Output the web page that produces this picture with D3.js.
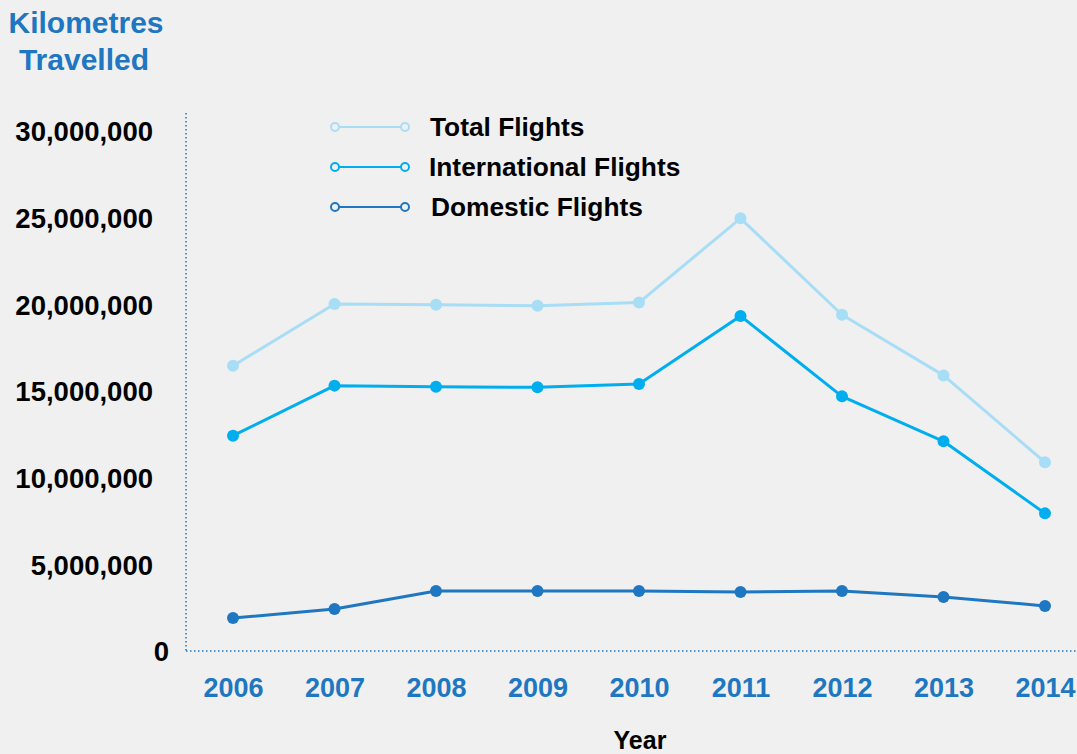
<!DOCTYPE html>
<html>
<head>
<meta charset="utf-8">
<script src="https://cdn.jsdelivr.net/npm/d3@7"></script>
<style>
  html, body { margin: 0; padding: 0; background: #f0f0f0; }
  svg { display: block; font-family: "Liberation Sans", Arial, Helvetica, sans-serif; }
</style>
</head>
<body>
<svg id="chart" width="1077" height="754"></svg>
<script>
const years = ["2006", "2007", "2008", "2009", "2010", "2011", "2012", "2013", "2014"];
const totalFlights = [16460000, 20020000, 19980000, 19920000, 20100000, 24960000, 19400000, 15900000, 10890000];
const internationalFlights = [12420000, 15310000, 15250000, 15210000, 15400000, 19330000, 14690000, 12100000, 7940000];
const domesticFlights = [1900000, 2420000, 3460000, 3460000, 3460000, 3400000, 3460000, 3120000, 2600000];
const yTickValues = [0, 5000000, 10000000, 15000000, 20000000, 25000000, 30000000];
const seriesNames = ["Total Flights", "International Flights", "Domestic Flights"];
const seriesColors = ["#a8ddf6", "#00aeef", "#1e77c0"];

const series = [
  { name: seriesNames[0], values: totalFlights, color: seriesColors[0] },
  { name: seriesNames[1], values: internationalFlights, color: seriesColors[1] },
  { name: seriesNames[2], values: domesticFlights, color: seriesColors[2] }
];

const svg = d3.select("#chart");
svg.append("rect").attr("width", 1077).attr("height", 754).attr("fill", "#f0f0f0");

const axisX = 186, zeroY = 651;
const x = d3.scalePoint().domain(years).range([233, 1045]);
const y = d3.scaleLinear().domain([0, 30000000]).range([zeroY, 131]);

const axisBlue = "#1e77c0";

// Dotted axes
svg.append("line")
  .attr("x1", axisX).attr("x2", axisX).attr("y1", 113).attr("y2", zeroY)
  .attr("stroke", axisBlue).attr("stroke-width", 1.5).attr("stroke-dasharray", "1.5,2.5");
svg.append("line")
  .attr("x1", axisX).attr("x2", 1077).attr("y1", zeroY).attr("y2", zeroY)
  .attr("stroke", axisBlue).attr("stroke-width", 1.5).attr("stroke-dasharray", "1.5,2.5");

// Y axis labels
const yAxis = svg.append("g")
  .attr("transform", `translate(${axisX},0)`)
  .call(d3.axisLeft(y).tickValues(yTickValues).tickSize(0).tickPadding(33)
    .tickFormat(d => d === 0 ? "0" : d3.format(",")(d)));
yAxis.select(".domain").remove();
yAxis.selectAll("text")
  .attr("fill", "#000").attr("font-size", 27.5).attr("font-weight", "bold")
  .attr("font-family", "'Liberation Sans', Arial, sans-serif")
  .attr("dy", "0.36em")
  .attr("dx", d => d === 0 ? 16 : 0);

// X axis labels
const xAxis = svg.append("g")
  .attr("transform", `translate(0,${zeroY})`)
  .call(d3.axisBottom(x).tickSize(0).tickPadding(27));
xAxis.select(".domain").remove();
xAxis.selectAll("text")
  .attr("fill", axisBlue).attr("font-size", 27).attr("font-weight", "bold")
  .attr("font-family", "'Liberation Sans', Arial, sans-serif")
  .attr("dy", "0.71em");

// Titles
const title = svg.append("text")
  .attr("x", 86).attr("y", 33).attr("text-anchor", "middle")
  .attr("fill", axisBlue).attr("font-size", 30).attr("font-weight", "bold");
title.append("tspan").attr("x", 86).attr("y", 33).text("Kilometres");
title.append("tspan").attr("x", 84).attr("y", 70).text("Travelled");

svg.append("text")
  .attr("x", 640).attr("y", 749).attr("text-anchor", "middle")
  .attr("fill", "#000").attr("font-size", 25).attr("font-weight", "bold")
  .text("Year");

// Lines and points
const line = d3.line().x((d, i) => x(years[i])).y(d => y(d));
series.forEach(s => {
  svg.append("path")
    .datum(s.values)
    .attr("d", line)
    .attr("fill", "none")
    .attr("stroke", s.color)
    .attr("stroke-width", 3)
    .attr("stroke-linejoin", "round");
  svg.append("g").selectAll("circle")
    .data(s.values)
    .join("circle")
    .attr("cx", (d, i) => x(years[i]))
    .attr("cy", d => y(d))
    .attr("r", 6)
    .attr("fill", s.color);
});

// Legend
const legend = svg.append("g");
series.forEach((s, i) => {
  const ly = 127 + i * 40;
  const g = legend.append("g");
  g.append("line").attr("x1", 335).attr("x2", 405).attr("y1", ly).attr("y2", ly)
    .attr("stroke", s.color).attr("stroke-width", 2);
  [335, 405].forEach(cx => {
    g.append("circle").attr("cx", cx).attr("cy", ly).attr("r", 4)
      .attr("fill", "#f0f0f0").attr("stroke", s.color).attr("stroke-width", 2);
  });
  g.append("text")
    .attr("x", i === 1 ? 429 : (i === 2 ? 431 : 430))
    .attr("y", ly + 9)
    .attr("fill", "#000").attr("font-size", 26.3).attr("font-weight", "bold")
    .text(s.name);
});
</script>
</body>
</html>
